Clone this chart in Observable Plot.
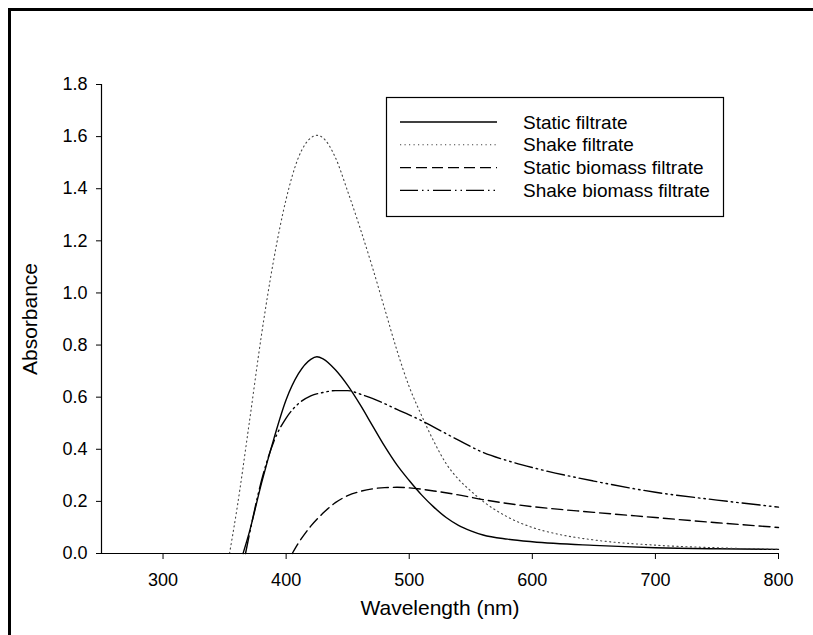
<!DOCTYPE html>
<html>
<head>
<meta charset="utf-8">
<script src="https://cdn.jsdelivr.net/npm/d3@7"></script>
<script src="https://cdn.jsdelivr.net/npm/@observablehq/plot@0.6"></script>
<style>
  html, body { margin: 0; padding: 0; background: #fff; }
  #wrap { position: relative; width: 813px; height: 635px; overflow: hidden; }
  #frame { position: absolute; left: 8px; top: 8px; width: 900px; height: 700px;
           border-left: 3px solid #000; border-top: 3px solid #000; pointer-events: none; }
  #legend { position: absolute; left: 0; top: 0; }
  [aria-label="x-axis label"], [aria-label="y-axis label"] { font-size: 21px; }
</style>
</head>
<body>
<div id="wrap"><div id="chart"></div><div id="frame"></div><svg id="legend" width="813" height="635"></svg></div>
<script>
// ---- Data ----
const seriesNames = ["Static filtrate", "Shake filtrate", "Static biomass filtrate", "Shake biomass filtrate"];

const staticWl  = [365, 370, 380, 390, 400, 410, 420, 425, 430, 440, 450, 460, 470, 480, 490, 500, 510, 520, 530, 540, 550, 560, 580, 600, 650, 700, 750, 800];
const staticAbs = [0, 0.08, 0.27, 0.44, 0.59, 0.69, 0.745, 0.755, 0.747, 0.705, 0.645, 0.572, 0.492, 0.412, 0.34, 0.28, 0.225, 0.178, 0.138, 0.108, 0.087, 0.071, 0.055, 0.045, 0.031, 0.022, 0.018, 0.016];

const shakeWl  = [354, 360, 370, 380, 390, 400, 410, 420, 425, 430, 440, 450, 460, 470, 480, 490, 500, 510, 520, 530, 540, 550, 560, 580, 600, 620, 650, 700, 750, 800];
const shakeAbs = [0, 0.17, 0.5, 0.84, 1.13, 1.36, 1.52, 1.595, 1.605, 1.595, 1.52, 1.39, 1.25, 1.1, 0.94, 0.78, 0.64, 0.53, 0.43, 0.345, 0.285, 0.24, 0.2, 0.14, 0.1, 0.075, 0.052, 0.032, 0.022, 0.016];

const staticBioWl  = [405, 410, 420, 430, 440, 450, 460, 470, 480, 490, 500, 520, 540, 560, 580, 600, 650, 700, 750, 800];
const staticBioAbs = [0, 0.04, 0.105, 0.155, 0.195, 0.222, 0.238, 0.248, 0.253, 0.254, 0.252, 0.24, 0.225, 0.207, 0.192, 0.18, 0.158, 0.138, 0.118, 0.1];

const shakeBioWl  = [367, 370, 380, 390, 400, 410, 420, 430, 440, 450, 460, 470, 480, 490, 500, 510, 520, 540, 560, 580, 600, 650, 700, 750, 800];
const shakeBioAbs = [0, 0.07, 0.28, 0.43, 0.52, 0.575, 0.605, 0.618, 0.625, 0.625, 0.612, 0.595, 0.575, 0.553, 0.532, 0.51, 0.485, 0.435, 0.388, 0.356, 0.33, 0.278, 0.235, 0.205, 0.178];

const xTicks = [300, 400, 500, 600, 700, 800];
const yTicks = [0, 0.2, 0.4, 0.6, 0.8, 1.0, 1.2, 1.4, 1.6, 1.8];

// ---- Styles ----
const styles = [
  {stroke: "#000", dash: null, width: 1.4},
  {stroke: "#444", dash: "1.2,3.3", width: 1.1},
  {stroke: "#000", dash: "11,5", width: 1.4},
  {stroke: "#000", dash: "18,4,1.5,4,1.5,4", width: 1.4}
];

const table = (wl, ab, name) => wl.map((w, i) => ({wl: w, abs: ab[i], series: name}));
const data = [
  table(staticWl, staticAbs, seriesNames[0]),
  table(shakeWl, shakeAbs, seriesNames[1]),
  table(staticBioWl, staticBioAbs, seriesNames[2]),
  table(shakeBioWl, shakeBioAbs, seriesNames[3])
];

const font = "Liberation Sans, Arial, Helvetica, sans-serif";

const chart = Plot.plot({
  width: 813,
  height: 635,
  marginLeft: 101,
  marginRight: 35,
  marginTop: 84,
  marginBottom: 82,
  style: {fontFamily: font, background: "#fff", color: "#000"},
  x: {domain: [250, 800]},
  y: {domain: [0, 1.8]},
  marks: [
    ...data.map((d, i) => Plot.line(d, {
      x: "wl", y: "abs", curve: "monotone-x",
      stroke: styles[i].stroke, strokeWidth: styles[i].width,
      strokeDasharray: styles[i].dash
    })),
    Plot.ruleY([0], {stroke: "#000", strokeWidth: 1.2}),
    Plot.ruleX([250], {y1: 0, y2: 1.8, stroke: "#000", strokeWidth: 1.2}),
    Plot.axisX({ticks: xTicks, tickSize: 6, tickPadding: 14, fontSize: 18, stroke: "#000",
      label: "Wavelength (nm)", labelAnchor: "center", labelOffset: 61, labelArrow: false}),
    Plot.axisY({ticks: yTicks, tickSize: 5, tickPadding: 9, fontSize: 18, stroke: "#000",
      tickFormat: d => d.toFixed(1),
      label: "Absorbance", labelAnchor: "center", labelOffset: 79, labelArrow: false})
  ]
});
document.getElementById("chart").appendChild(chart);

// ---- Legend ----
const lg = d3.select("#legend");
const box = {x: 386.5, y: 97.5, w: 337, h: 119};
lg.append("rect").attr("x", box.x).attr("y", box.y).attr("width", box.w).attr("height", box.h)
  .attr("fill", "#fff").attr("stroke", "#000").attr("stroke-width", 1.2);
seriesNames.forEach((name, i) => {
  const y = 122 + i * 22.8;
  lg.append("line").attr("x1", 400).attr("x2", 497).attr("y1", y).attr("y2", y)
    .attr("stroke", styles[i].stroke).attr("stroke-width", styles[i].width)
    .attr("stroke-dasharray", styles[i].dash);
  lg.append("text").attr("x", 523).attr("y", y).attr("dy", "0.35em")
    .attr("font-family", font).attr("font-size", 19).attr("fill", "#000").text(name);
});
</script>
</body>
</html>
